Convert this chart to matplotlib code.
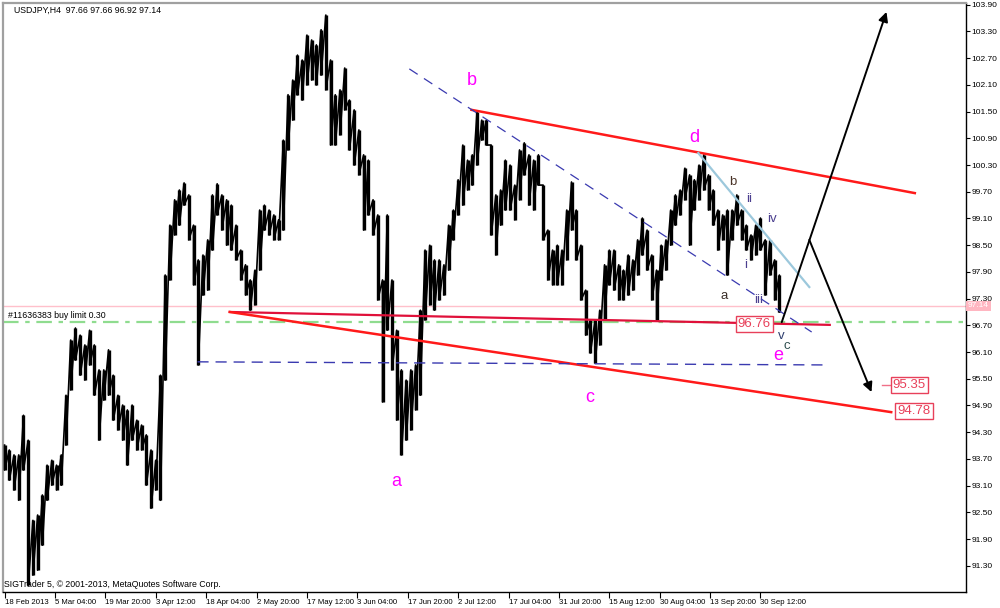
import numpy as np
import matplotlib
matplotlib.use("Agg")
import matplotlib.pyplot as plt
import matplotlib.transforms as mtransforms

plt.rcParams['font.family'] = ['Liberation Sans', 'DejaVu Sans']

# USDJPY H4, one high/low pair for every 6 bars
step = 6
high = [94.01, 93.90, 93.79, 93.79, 94.68, 94.12, 92.32, 92.44, 92.89, 93.56,
        93.67, 93.56, 93.79, 95.13, 96.37, 96.64, 96.48, 96.26, 96.59, 96.26,
        95.70, 95.70, 96.15, 95.58, 95.13, 94.91, 94.80, 94.91, 94.57, 94.46,
        94.24, 93.90, 93.67, 95.58, 97.83, 98.95, 99.52, 99.74, 99.90, 99.63,
        98.95, 98.17, 98.28, 98.62, 99.63, 99.88, 99.63, 99.52, 99.40, 98.95,
        98.39, 98.06, 97.72, 97.94, 99.29, 99.40, 99.29, 99.18, 99.07, 100.86,
        101.88, 102.21, 102.77, 102.66, 103.22, 103.11, 103.00, 103.34, 103.67, 102.66,
        101.88, 101.99, 102.48, 101.76, 101.54, 101.09, 100.53, 100.41, 99.52, 99.18,
        97.72, 99.18, 97.72, 96.59, 95.70, 95.47, 95.70, 95.81, 97.04, 98.39,
        98.50, 98.17, 98.17, 98.06, 98.95, 99.29, 99.97, 100.75, 100.41, 100.53,
        101.49, 101.31, 101.31, 100.75, 99.63, 99.74, 100.41, 100.30, 99.85, 100.64,
        100.80, 100.53, 100.41, 100.53, 99.85, 98.84, 98.39, 98.50, 98.39, 99.29,
        99.92, 99.29, 98.50, 97.49, 96.82, 96.82, 97.04, 98.06, 98.39, 98.39,
        98.06, 97.94, 98.28, 98.17, 98.62, 99.11, 98.84, 98.28, 97.94, 98.50,
        98.62, 99.29, 99.63, 99.74, 100.23, 100.08, 99.97, 100.30, 100.53, 100.08,
        99.74, 99.29, 99.18, 99.29, 99.29, 99.63, 99.29, 98.95, 98.73, 98.95,
        99.11, 98.62, 98.62, 98.17, 97.83]
low = [93.45, 93.22, 93.00, 92.77, 93.45, 90.86, 91.09, 91.20, 91.76, 92.77,
       93.11, 93.00, 93.11, 94.01, 95.25, 95.92, 95.58, 95.47, 95.81, 95.13,
       94.12, 95.02, 95.13, 94.57, 94.35, 94.12, 93.56, 94.12, 93.90, 93.90,
       93.11, 92.59, 93.00, 92.77, 95.47, 97.72, 98.73, 98.95, 99.40, 98.62,
       97.61, 95.81, 97.38, 97.49, 98.39, 99.18, 98.84, 98.50, 98.39, 98.17,
       97.72, 97.38, 97.04, 97.16, 97.94, 98.84, 98.73, 98.62, 98.62, 98.84,
       100.64, 101.31, 101.88, 101.76, 102.10, 102.21, 102.10, 102.32, 101.99, 100.75,
       100.75, 100.98, 101.54, 100.64, 100.30, 100.08, 98.84, 99.18, 98.73, 97.27,
       94.98, 96.59, 95.70, 94.57, 93.79, 94.12, 94.35, 94.80, 95.13, 96.82,
       97.16, 97.04, 97.27, 97.38, 97.94, 98.62, 99.18, 99.40, 99.74, 99.85,
       100.30, 100.86, 100.75, 98.73, 98.28, 98.95, 99.29, 99.29, 99.07, 99.52,
       100.08, 99.40, 99.29, 99.85, 98.62, 97.72, 97.61, 97.61, 97.61, 98.17,
       98.84, 98.17, 97.27, 96.48, 96.08, 95.85, 96.26, 96.82, 97.61, 97.49,
       97.27, 97.27, 97.38, 97.49, 97.83, 98.28, 97.94, 97.27, 96.82, 97.72,
       97.94, 98.50, 98.95, 99.18, 99.52, 98.50, 99.29, 99.52, 99.74, 99.29,
       98.95, 98.39, 98.62, 97.83, 98.62, 98.95, 98.62, 98.39, 98.17, 98.28,
       98.39, 97.38, 97.83, 97.27, 97.00]

# time axis labels, one every 64 bars
x_labels = ["18 Feb 2013", "5 Mar 04:00", "19 Mar 20:00", "3 Apr 12:00", "18 Apr 04:00",
            "2 May 20:00", "17 May 12:00", "3 Jun 04:00", "17 Jun 20:00", "2 Jul 12:00",
            "17 Jul 04:00", "31 Jul 20:00", "15 Aug 12:00", "30 Aug 04:00", "13 Sep 20:00",
            "30 Sep 12:00"]
label_every = 64
y_ticks = [round(91.30 + 0.60 * k, 2) for k in range(22)]

last_price = 97.14
order_price = 96.78

# trend lines: (bar, price) pairs
upper_red = [(593, 101.54), (1156, 99.67)]
mid_red = [(286, 97.00), (1048, 96.71)]
lower_red = [(286, 97.00), (1126, 94.75)]
blue_diag = [(514, 102.46), (1025, 96.55)]
blue_flat = [(245, 95.88), (1045, 95.81)]
light_blue = [(881, 100.57), (1022, 97.56)]
arrow_up = [(987, 96.77), (1120, 103.74)]
arrow_down = [(1022, 98.62), (1101, 95.20)]

# wave labels
big_waves = [("b", 593, 102.21), ("a", 498, 93.20), ("c", 743, 95.07),
             ("d", 876, 100.93), ("e", 982, 96.03)]
small_waves = [("a", 914, 97.36, "#3a2e28"), ("b", 925, 99.92, "#4a3428"),
               ("i", 941, 98.06, "#4b3f8f"), ("ii", 946, 99.54, "#4b3f8f"),
               ("iii", 958, 97.27, "#4b3f8f"), ("iv", 975, 99.09, "#4b3f8f"),
               ("v", 986, 96.46, "#2f3f6f"), ("c", 994, 96.24, "#2f4f4f")]

fig = plt.figure(figsize=(10, 6.08), dpi=100)
ax = fig.add_axes([0.003, 16 / 608, 0.963, 589 / 608])

# bars: high-low sticks joined into one jagged trace
x = np.arange(len(high)) * step
ax.vlines(x, low, high, color="black", lw=2.4, zorder=3)
trace_x = np.repeat(x, 2)
trace_y = np.column_stack([high, low]).ravel()
ax.plot(trace_x, trace_y, color="black", lw=1.2, zorder=3)

# horizontal levels
ax.axhline(last_price, color="#ffc0cb", lw=1, zorder=1)
ax.axhline(order_price, color="#8fdc8f", lw=1.6, ls=(0, (7, 3, 2, 3)), zorder=1)

def seg(pts, **kw):
    ax.plot([p[0] for p in pts], [p[1] for p in pts], **kw)

seg(upper_red, color="#ff1a1a", lw=1.8, zorder=4)
seg(mid_red, color="#e0103a", lw=1.6, zorder=4)
seg(lower_red, color="#ff1a1a", lw=1.8, zorder=4)
seg(blue_diag, color="#3a3ab0", lw=0.9, ls=(0, (8, 6)), zorder=4)
seg(blue_flat, color="#3a3ab0", lw=1.0, ls=(0, (8, 5)), zorder=4)
seg(light_blue, color="#9cc8dc", lw=1.6, zorder=4)

for a, b in (arrow_up, arrow_down):
    ax.annotate("", xy=b, xytext=a,
                arrowprops=dict(arrowstyle="-|>", color="black", lw=1.4,
                                mutation_scale=14, shrinkA=0, shrinkB=0), zorder=5)

for t, bx, py in big_waves:
    ax.text(bx, py, t, color="#ff00ff", fontsize=13, ha="center", va="center")
for t, bx, py, c in small_waves:
    ax.text(bx, py, t, color=c, fontsize=9.5, ha="center", va="center")

# price boxes
box = dict(boxstyle="square,pad=0.15", fc="white", ec="#e8405a", lw=1)
ax.text(952, 96.73, "96.76", color="#e8405a", fontsize=9.5, ha="center", va="center", bbox=box, zorder=6)
ax.plot([1114, 1133], [95.35, 95.35], color="#f07088", lw=1)
ax.text(1149, 95.35, "95.35", color="#e8405a", fontsize=9.5, ha="center", va="center", bbox=box, zorder=6)
ax.text(1155, 94.78, "94.78", color="#e8405a", fontsize=9.5, ha="center", va="center", bbox=box, zorder=6)

# texts
ax.text(0.011, 0.996, "USDJPY,H4  97.66 97.66 96.92 97.14", transform=ax.transAxes,
        fontsize=6.3, va="top", ha="left")
ax.text(4, 96.92, "#11636383 buy limit 0.30", fontsize=6.3, va="center", ha="left")
ax.text(0.001, 0.012, "SIGTrader 5, \u00a9 2001-2013, MetaQuotes Software Corp.",
        transform=ax.transAxes, fontsize=6.3, va="center", ha="left")

# axes
ax.set_xlim(-2, 1221)
ax.set_ylim(90.71, 103.94)
ax.set_xticks(np.arange(len(x_labels)) * label_every)
ax.set_xticklabels(x_labels, fontsize=5.6)
offset = mtransforms.ScaledTranslation(0.02, 0, fig.dpi_scale_trans)
for lab in ax.get_xticklabels():
    lab.set_horizontalalignment("left")
    lab.set_transform(lab.get_transform() + offset)
ax.tick_params(axis="x", direction="out", length=4, width=0.8, pad=1)

ax.yaxis.tick_right()
ax.set_yticks(y_ticks)
ax.set_yticklabels(["%.2f" % v for v in y_ticks], fontsize=6)
ax.tick_params(axis="y", direction="out", length=3, width=0.8, pad=1)

trans = mtransforms.blended_transform_factory(ax.transAxes, ax.transData)
ax.text(1.002, last_price, "97.14", transform=trans, color="white", fontsize=6,
        va="center", ha="left", bbox=dict(boxstyle="square,pad=0.2", fc="#ffb6c1", ec="none"))

for s in ("left", "top"):
    ax.spines[s].set_color("#a0a0a0")
    ax.spines[s].set_linewidth(1.6)
for s in ("right", "bottom"):
    ax.spines[s].set_color("black")
    ax.spines[s].set_linewidth(1)

fig.savefig("out.png", dpi=100, facecolor="white")
